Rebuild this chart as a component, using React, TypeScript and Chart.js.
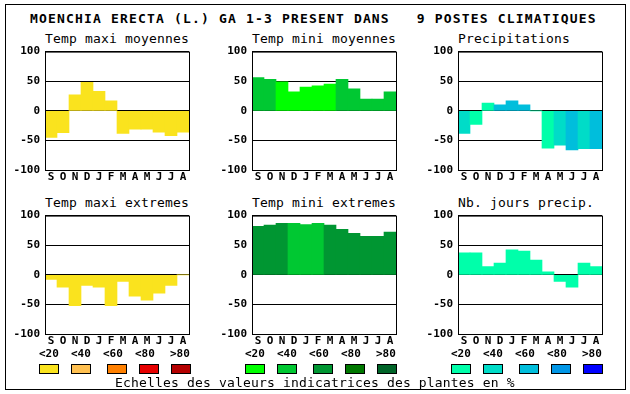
import React, { useEffect, useRef } from "react";
import { Chart, registerables } from "chart.js";

Chart.register(...registerables);

const months = ["S", "O", "N", "D", "J", "F", "M", "A", "M", "J", "J", "A"];
const yTicks = [-100, -50, 0, 50, 100];
const scaleLabels = ["<20", "<40", "<60", "<80", ">80"];

const warmColors = ["#FAE31E", "#FFC050", "#FF8000", "#E60000", "#B40000"];
const greenColors = ["#00FF00", "#00C832", "#009632", "#007800", "#006428"];
const blueColors = ["#00FFAA", "#00DCC8", "#00BEDC", "#0096E6", "#0000FF"];

const tmaxMoyValues = [-45, -37, 27, 48, 33, 17, -38, -31, -31, -36, -42, -36];
const tmaxMoyLevels = [0, 0, 0, 0, 0, 0, 0, 0, 0, 0, 0, 0];
const tminMoyValues = [56, 53, 49, 32, 40, 42, 45, 53, 37, 20, 20, 32];
const tminMoyLevels = [1, 1, 0, 0, 0, 0, 0, 1, 1, 1, 1, 1];
const precipValues = [-38, -23, 13, 10, 17, 10, 0, -63, -58, -66, -64, -64];
const precipLevels = [1, 0, 0, 2, 2, 2, 0, 0, 1, 2, 1, 2];
const tmaxExtValues = [-8, -21, -52, -18, -21, -52, -11, -36, -43, -31, -18, 0];
const tmaxExtLevels = [0, 0, 0, 0, 0, 0, 0, 0, 0, 0, 0, 0];
const tminExtValues = [82, 84, 87, 87, 85, 87, 84, 77, 70, 65, 65, 72];
const tminExtLevels = [2, 2, 2, 1, 1, 1, 2, 2, 2, 2, 2, 2];
const rainDaysValues = [37, 37, 14, 20, 42, 40, 25, 5, -11, -21, 20, 14];
const rainDaysLevels = [0, 0, 0, 0, 0, 0, 0, 0, 0, 0, 0, 0];

const MONO = "'DejaVu Sans Mono', monospace";
const PLOT_W = 144;
const PLOT_H = 120;
const Y_AXIS_W = 44;
const PAD_TOP = 10;
const X_AXIS_H = 18;

const framePlugin = {
  id: "frame",
  afterDraw(chart: any) {
    const { ctx, chartArea } = chart;
    const { left, top, right, bottom } = chartArea;
    ctx.save();
    ctx.strokeStyle = "#000";
    ctx.lineWidth = 1;
    ctx.strokeRect(left + 0.5, top + 0.5, right - left, bottom - top);
    ctx.restore();
  },
};

type PanelProps = {
  left: number;
  top: number;
  title: string;
  values: number[];
  levels: number[];
  palette: string[];
};

function Panel({ left, top, title, values, levels, palette }: PanelProps) {
  const ref = useRef<HTMLCanvasElement>(null);
  useEffect(() => {
    const tickFont = { family: MONO, size: 11, weight: "bold" as const };
    const chart = new Chart(ref.current as HTMLCanvasElement, {
      type: "bar",
      data: {
        labels: months,
        datasets: [
          {
            data: values,
            backgroundColor: levels.map((l) => palette[l]),
            borderWidth: 0,
            barPercentage: 1,
            categoryPercentage: 1,
          },
        ],
      },
      options: {
        animation: false,
        responsive: false,
        devicePixelRatio: 1,
        layout: { padding: { top: PAD_TOP, right: 2, left: 0, bottom: 0 }, autoPadding: false },
        plugins: { legend: { display: false }, tooltip: { enabled: false }, title: { display: false } },
        scales: {
          x: {
            grid: { display: false, drawTicks: false, tickLength: 0 },
            border: { display: false },
            ticks: { font: tickFont, color: "#000", padding: 1, maxRotation: 0, autoSkip: false },
            afterFit: (s: any) => {
              s.height = X_AXIS_H;
            },
          },
          y: {
            min: -100,
            max: 100,
            z: 1,
            grid: { color: "#000", lineWidth: 1, drawTicks: false, tickLength: 0 },
            border: { display: false },
            ticks: { font: tickFont, color: "#000", padding: 5 },
            afterBuildTicks: (s: any) => {
              s.ticks = yTicks.map((v) => ({ value: v }));
            },
            afterFit: (s: any) => {
              s.width = Y_AXIS_W;
            },
          },
        },
      } as any,
      plugins: [framePlugin],
    });
    return () => chart.destroy();
  }, []);
  return (
    <>
      <div
        style={{
          position: "absolute",
          left,
          top: top - 18.3,
          font: `13px ${MONO}`,
          lineHeight: "13px",
          letterSpacing: "0.17px",
          whiteSpace: "pre",
          color: "#000",
        }}
      >
        {title}
      </div>
      <canvas
        ref={ref}
        width={Y_AXIS_W + PLOT_W + 2}
        height={PAD_TOP + PLOT_H + X_AXIS_H}
        style={{
          position: "absolute",
          left: left - Y_AXIS_W,
          top: top - PAD_TOP,
          width: Y_AXIS_W + PLOT_W + 2,
          height: PAD_TOP + PLOT_H + X_AXIS_H,
        }}
      />
    </>
  );
}

const labelOffsets = [0, 32, 64, 96, 131];
const boxOffsets = [0, 32, 68, 100, 132];

function ScaleLegend({ left, palette }: { left: number; palette: string[] }) {
  return (
    <>
      {scaleLabels.map((lab, i) => (
        <div
          key={"l" + i}
          style={{
            position: "absolute",
            left: left + labelOffsets[i],
            top: 347.7,
            font: `bold 11px ${MONO}`,
            lineHeight: "11px",
            whiteSpace: "pre",
            color: "#000",
          }}
        >
          {lab}
        </div>
      ))}
      {palette.map((c, i) => (
        <div
          key={"b" + i}
          style={{
            position: "absolute",
            left: left + boxOffsets[i],
            top: 364,
            width: 20,
            height: 10,
            boxSizing: "border-box",
            border: "1px solid #000",
            background: c,
          }}
        />
      ))}
    </>
  );
}

export default function App() {
  return (
    <div style={{ position: "fixed", left: 0, top: 0, width: 630, height: 394, background: "#fff" }}>
      <div
        style={{
          position: "absolute",
          left: 5,
          top: 4,
          width: 621,
          height: 386,
          boxSizing: "border-box",
          border: "1px solid #000",
        }}
      />
      <div
        style={{
          position: "absolute",
          left: 30,
          top: 11.5,
          font: `bold 13px ${MONO}`,
          lineHeight: "13px",
          letterSpacing: "1.17px",
          whiteSpace: "pre",
          color: "#000",
        }}
      >
        {"MOENCHIA ERECTA (L.) GA 1-3 PRESENT DANS   9 POSTES CLIMATIQUES"}
      </div>
      <Panel left={45} top={50} title="Temp maxi moyennes" values={tmaxMoyValues} levels={tmaxMoyLevels} palette={warmColors} />
      <Panel left={252} top={50} title="Temp mini moyennes" values={tminMoyValues} levels={tminMoyLevels} palette={greenColors} />
      <Panel left={458} top={50} title="Precipitations" values={precipValues} levels={precipLevels} palette={blueColors} />
      <Panel left={45} top={214} title="Temp maxi extremes" values={tmaxExtValues} levels={tmaxExtLevels} palette={warmColors} />
      <Panel left={252} top={214} title="Temp mini extremes" values={tminExtValues} levels={tminExtLevels} palette={greenColors} />
      <Panel left={458} top={214} title="Nb. jours precip." values={rainDaysValues} levels={rainDaysLevels} palette={blueColors} />
      <ScaleLegend left={39} palette={warmColors} />
      <ScaleLegend left={245} palette={greenColors} />
      <ScaleLegend left={451} palette={blueColors} />
      <div
        style={{
          position: "absolute",
          left: 115,
          top: 376,
          font: `13px ${MONO}`,
          lineHeight: "13px",
          letterSpacing: "0.17px",
          whiteSpace: "pre",
          color: "#000",
        }}
      >
        Echelles des valeurs indicatrices des plantes en %
      </div>
    </div>
  );
}
